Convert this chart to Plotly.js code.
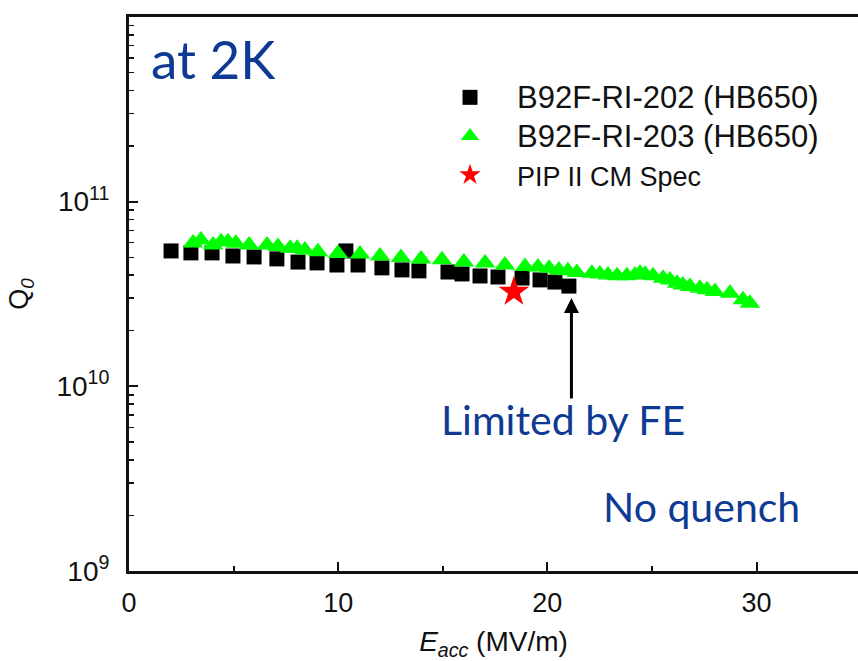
<!DOCTYPE html>
<html>
<head>
<meta charset="utf-8">
<script src="https://cdn.plot.ly/plotly-3.0.1.min.js"></script>
<style>html,body{margin:0;padding:0;background:#fff;}#chart{width:858px;height:661px;}</style>
</head>
<body>
<div id="chart"></div>
<script>
// B92F-RI-202 (HB650) - black squares
const eacc202 = [2.01, 2.96, 3.97, 4.97, 5.98, 7.07, 8.08, 8.99, 9.94, 10.37, 10.95, 12.09, 13.05, 13.86, 15.25, 15.92, 16.78, 17.64, 18.79, 19.65, 20.36, 21.03];
const q202 = [5.41e10, 5.28e10, 5.28e10, 5.08e10, 5.02e10, 4.90e10, 4.71e10, 4.66e10, 4.54e10, 5.41e10, 4.54e10, 4.38e10, 4.27e10, 4.22e10, 4.16e10, 4.06e10, 3.96e10, 3.91e10, 3.86e10, 3.77e10, 3.67e10, 3.49e10];

// B92F-RI-203 (HB650) - green triangles
const eacc203 = [3.06, 3.44, 4.02, 4.40, 4.73, 5.11, 5.74, 6.60, 7.12, 7.70, 8.03, 8.41, 9.03, 9.99, 11.04, 12.00, 13.00, 13.96, 14.96, 16.01, 17.02, 17.97, 18.93, 19.55, 20.08, 20.55, 20.98, 21.41, 22.13, 22.51, 22.90, 23.33, 23.80, 24.19, 24.43, 24.67, 25.05, 25.53, 25.86, 26.20, 26.48, 26.82, 27.29, 27.63, 28.01, 28.73, 29.35, 29.68];
const q203 = [5.98e10, 6.20e10, 5.83e10, 6.07e10, 6.07e10, 5.95e10, 5.83e10, 5.83e10, 5.71e10, 5.60e10, 5.60e10, 5.48e10, 5.36e10, 5.24e10, 5.21e10, 5.08e10, 4.99e10, 4.90e10, 4.84e10, 4.72e10, 4.66e10, 4.54e10, 4.46e10, 4.43e10, 4.36e10, 4.27e10, 4.23e10, 4.13e10, 4.10e10, 4.06e10, 4.01e10, 3.97e10, 3.97e10, 4.01e10, 4.10e10, 4.05e10, 3.97e10, 3.85e10, 3.77e10, 3.62e10, 3.54e10, 3.47e10, 3.40e10, 3.33e10, 3.26e10, 3.19e10, 2.94e10, 2.82e10];

// PIP II CM Spec - red star
const eaccSpec = [18.4];
const qSpec = [3.25e10];

const seriesNames = ["B92F-RI-202 (HB650)", "B92F-RI-203 (HB650)", "PIP II CM Spec"];
const xTickVals = [0, 10, 20, 30];
const xTickText = ["0", "10", "20", "30"];
const yTickVals = [1e9, 1e10, 1e11, 1e12];
const yTickText = ["10<sup>9</sup>", "10<sup>10</sup>", "10<sup>11</sup>", "10<sup>12</sup>"];

// minor log ticks (2..9 within each decade)
const yMinor = [];
for (let e = 9; e < 12; e++) for (let m = 2; m <= 9; m++) yMinor.push(m * Math.pow(10, e));

const blue = "#0f3a93";
const fam = "Liberation Sans, Arial, sans-serif";
const axisFont = {family: fam, size: 27, color: "#111"};

const traces = [
  {x: eacc202, y: q202, type: "scatter", mode: "markers",
   name: '<span style="font-size:31px">' + seriesNames[0] + '</span>',
   marker: {symbol: "square", size: 15, color: "#000"}},
  {x: eacc203, y: q203, type: "scatter", mode: "markers",
   name: '<span style="font-size:31px">' + seriesNames[1] + '</span>',
   marker: {symbol: "triangle-up", size: 18, color: "#00ff00"}},
  {x: eaccSpec, y: qSpec, type: "scatter", mode: "markers",
   name: '<span style="font-size:27px">' + seriesNames[2] + '</span>',
   marker: {symbol: "star", size: 23, color: "#ff0000"}}
];

const layout = {
  width: 858, height: 661,
  margin: {l: 129, r: 0, t: 17, b: 90, pad: 0},
  paper_bgcolor: "#fff", plot_bgcolor: "#fff",
  font: axisFont,
  showlegend: true,
  legend: {x: 0.4033, y: 0.899, xanchor: "left", yanchor: "top",
    bgcolor: "rgba(0,0,0,0)", font: {family: fam, size: 27.5, color: "#111"},
    tracegroupgap: 0, itemwidth: 84},
  xaxis: {
    type: "linear", range: [0, 34.85], tickmode: "array", tickvals: xTickVals, ticktext: xTickText,
    ticks: "inside", ticklen: 9, tickwidth: 2, tickcolor: "#111",
    minor: {ticks: "inside", dtick: 5, ticklen: 5, tickwidth: 2, tickcolor: "#111", showgrid: false},
    showline: true, linecolor: "#111", linewidth: 3, mirror: true,
    showgrid: false, zeroline: false, tickfont: axisFont, ticklabelstandoff: 6,
    title: {text: "<i>E</i><sub><i>acc</i></sub> (MV/m)", font: {family: fam, size: 28, color: "#111"}, standoff: 16}
  },
  yaxis: {
    type: "log", range: [9, 12], tickmode: "array", tickvals: yTickVals, ticktext: yTickText,
    ticks: "inside", ticklen: 9, tickwidth: 2, tickcolor: "#111",
    minor: {tickmode: "array", tickvals: yMinor, ticks: "inside", ticklen: 5, tickwidth: 1.5, tickcolor: "#111", showgrid: false},
    showline: true, linecolor: "#111", linewidth: 3, mirror: true,
    showgrid: false, zeroline: false, tickfont: {family: fam, size: 28, color: "#111"}, ticklabelstandoff: 11,
    title: {text: "Q<sub><i>0</i></sub>", font: axisFont, standoff: 20}
  },
  annotations: [
    {text: "at 2K", xref: "x", yref: "y", x: 4.02, y: 11.778, showarrow: false,
     font: {family: "Lato, sans-serif", size: 53, color: blue}},
    {text: "Limited by FE", xref: "x", yref: "y", x: 20.75, y: 9.818, showarrow: false,
     font: {family: "Lato, sans-serif", size: 41, color: blue}},
    {text: "No quench", xref: "x", yref: "y", x: 27.37, y: 9.347, showarrow: false,
     font: {family: "Lato, sans-serif", size: 41, color: blue}},
    {text: "", xref: "x", yref: "y", x: 21.15, y: 10.479, axref: "x", ayref: "y", ax: 21.15, ay: 9.926,
     showarrow: true, arrowhead: 2, arrowsize: 1, arrowwidth: 3, arrowcolor: "#000"}
  ]
};

Plotly.newPlot("chart", traces, layout, {displayModeBar: false, staticPlot: true});
</script>
</body>
</html>
